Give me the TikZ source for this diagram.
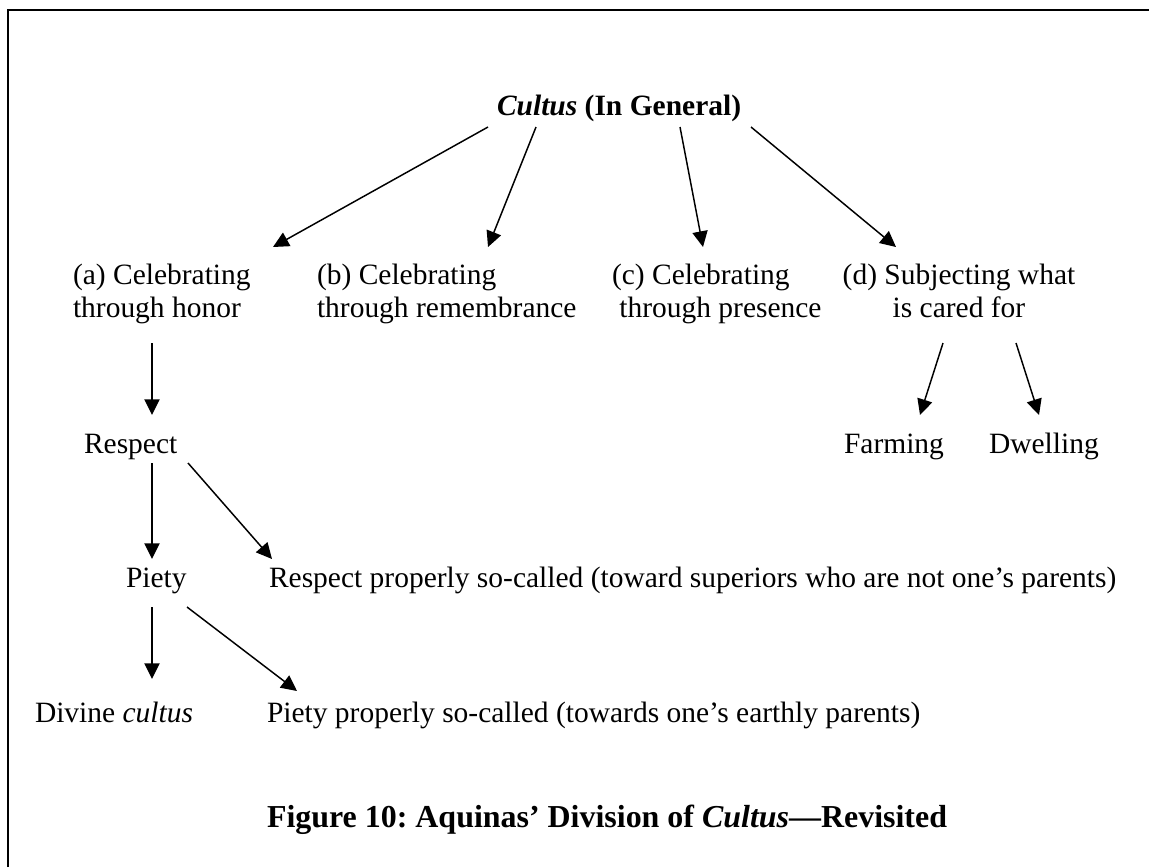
\documentclass[tikz,border=0pt]{standalone}
\usepackage{fontspec}
\setmainfont{Liberation Serif}
\usetikzlibrary{arrows.meta}
\frenchspacing
\tikzset{
  txt/.style={inner sep=0pt, outer sep=0pt, anchor=base west, font=\fontsize{12}{13.8}\selectfont},
  txtc/.style={txt, anchor=base},
  arr/.style={line width=0.6pt, -{Triangle[length=6.4pt,width=6.2pt]}},
  frame/.style={line width=0.8pt}
}
\begin{document}
\begin{tikzpicture}[x=0.407pt,y=-0.407pt]
\useasboundingbox (0,0) rectangle (1149,867);
\draw[frame] (7.7,867) -- (7.7,10) -- (1149,10);

\node[txt] (cult) at (497,115) {\textbf{\textit{Cultus} (In General)}};
\node[txt] (a) at (73,284) {\begin{tabular}[t]{@{}l@{}}(a) Celebrating\\through honor\end{tabular}};
\node[txt] (b) at (317,284) {\begin{tabular}[t]{@{}l@{}}(b) Celebrating\\through remembrance\end{tabular}};
\node[txt] (c) at (612,284) {\begin{tabular}[t]{@{}l@{}}(c) Celebrating\\\hspace*{0.25em}through presence\end{tabular}};
\node[txtc] (d) at (959,284) {\begin{tabular}[t]{@{}c@{}}(d) Subjecting what\\is cared for\end{tabular}};
\node[txt] (resp) at (84,453) {Respect};
\node[txt] (farm) at (844,453) {Farming};
\node[txt] (dwell) at (989,453) {Dwelling};
\node[txt] (piety) at (126,587) {Piety};
\node[txt] (rp) at (269,587) {Respect properly so-called (toward superiors who are not one’s parents)};
\node[txt] (div) at (35,722) {Divine \textit{cultus}};
\node[txt] (pp) at (267,722) {Piety properly so-called (towards one’s earthly parents)};
\node[txt, font=\fontsize{13}{15}\selectfont\bfseries] (cap) at (267,827) {Figure 10: Aquinas’ Division of \textit{Cultus}—Revisited};

\draw[arr] ([shift={(-9,12)}]cult.base west) -- ([shift={(200,-37)}]a.base west);
\draw[arr] ([shift={(39,12)}]cult.base west) -- ([shift={(171,-37)}]b.base west);
\draw[arr] ([shift={(183,12)}]cult.base west) -- ([shift={(91,-37)}]c.base west);
\draw[arr] ([shift={(254,12)}]cult.base west) -- ([shift={(-63,-37)}]d.base);
\draw[arr] ([shift={(79,59)}]a.base west) -- ([shift={(68,-38)}]resp.base west);
\draw[arr] ([shift={(68,10)}]resp.base west) -- ([shift={(26,-28)}]piety.base west);
\draw[arr] ([shift={(104,10)}]resp.base west) -- ([shift={(3,-28)}]rp.base west);
\draw[arr] ([shift={(-16,59)}]d.base) -- ([shift={(76,-38)}]farm.base west);
\draw[arr] ([shift={(57,59)}]d.base) -- ([shift={(50,-38)}]dwell.base west);
\draw[arr] ([shift={(26,20)}]piety.base west) -- ([shift={(117,-43)}]div.base west);
\draw[arr] ([shift={(61,20)}]piety.base west) -- ([shift={(30,-31)}]pp.base west);
\end{tikzpicture}
\end{document}
